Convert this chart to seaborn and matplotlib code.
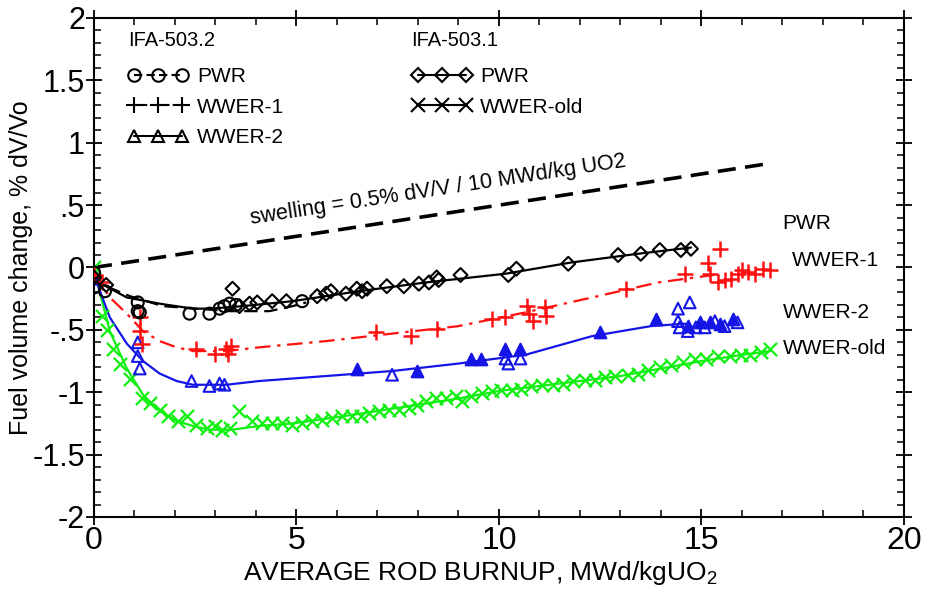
import matplotlib
matplotlib.use("Agg")
import matplotlib.pyplot as plt
from matplotlib.lines import Line2D
from matplotlib.legend import Legend
from matplotlib.ticker import MultipleLocator, FixedLocator, FixedFormatter
import seaborn as sns
import pandas as pd

# ---------------- data ----------------
# IFA-503.1 WWER-old (x markers)
old_x = [0, 0.2, 0.32, 0.47, 0.64, 0.89, 1.18, 1.38, 1.62, 1.82, 2.07, 2.29, 2.53, 2.78, 2.98, 3.17,
         3.35, 3.59, 3.89, 4.16, 4.40, 4.65, 4.90, 5.14, 5.39, 5.63, 5.88, 6.13, 6.37, 6.59, 6.79, 7.04,
         7.28, 7.53, 7.77, 7.97, 8.19, 8.44, 8.68, 8.93, 9.08, 9.32, 9.57, 9.82, 10.06, 10.31, 10.55,
         10.80, 11.05, 11.34, 11.59, 11.83, 12.13, 12.37, 12.62, 12.87, 13.19, 13.43, 13.68, 13.97,
         14.24, 14.54, 14.83, 15.10, 15.40, 15.70, 15.97, 16.20, 16.46, 16.68]
old_y = [0.0, -0.39, -0.50, -0.65, -0.77, -0.89, -1.05, -1.09, -1.14, -1.19, -1.23, -1.19, -1.26, -1.29,
         -1.27, -1.30, -1.29, -1.15, -1.23, -1.25, -1.25, -1.25, -1.26, -1.25, -1.23, -1.22, -1.21, -1.19,
         -1.19, -1.19, -1.17, -1.15, -1.14, -1.14, -1.13, -1.10, -1.07, -1.05, -1.05, -1.03, -1.07, -1.03,
         -1.01, -0.99, -0.98, -0.98, -0.97, -0.95, -0.94, -0.94, -0.93, -0.91, -0.90, -0.90, -0.88, -0.87,
         -0.86, -0.85, -0.82, -0.80, -0.78, -0.76, -0.73, -0.73, -0.71, -0.71, -0.70, -0.70, -0.68, -0.65]
old_fit_x = [0, 0.39, 0.81, 1.21, 1.62, 2.04, 2.44, 2.85, 3.42, 4.08, 4.9, 6.0, 7.0, 8.0, 9.0, 10.0,
             11.0, 12.0, 13.0, 14.0, 15.0, 16.0, 16.7]
old_fit_y = [-0.02, -0.51, -0.81, -1.02, -1.15, -1.23, -1.27, -1.30, -1.30, -1.27, -1.25, -1.20, -1.15,
             -1.10, -1.05, -0.99, -0.95, -0.91, -0.87, -0.81, -0.75, -0.70, -0.67]

# IFA-503.2 WWER-2 (triangles)
w2_open_x = [0, 1.08, 1.08, 1.13, 2.41, 2.85, 3.10, 3.22, 7.36, 10.16, 10.23, 10.53, 14.42, 14.71,
             14.42, 14.46, 14.66, 14.86, 15.08, 15.33, 15.57, 15.89]
w2_open_y = [-0.09, -0.60, -0.71, -0.81, -0.91, -0.95, -0.93, -0.94, -0.86, -0.73, -0.77, -0.73, -0.33,
             -0.28, -0.43, -0.48, -0.51, -0.48, -0.48, -0.43, -0.47, -0.44]
w2_fill_x = [6.50, 7.97, 9.30, 9.55, 10.16, 10.53, 12.50, 13.87, 14.66, 14.96, 15.20, 15.45, 15.77]
w2_fill_y = [-0.81, -0.83, -0.73, -0.73, -0.65, -0.65, -0.52, -0.41, -0.47, -0.44, -0.44, -0.45, -0.41]
w2_fit_x = [0, 0.39, 0.81, 1.21, 1.62, 2.04, 2.44, 3.27, 4.08, 5.73, 7.36, 9.0, 10.65, 12.3, 13.75, 14.6]
w2_fit_y = [-0.06, -0.40, -0.61, -0.75, -0.85, -0.91, -0.94, -0.94, -0.91, -0.87, -0.83, -0.77, -0.70,
            -0.55, -0.47, -0.45]

# IFA-503.2 WWER-1 (plus)
w1_x = [0, 0.2, 1.13, 1.13, 1.18, 2.53, 2.98, 3.27, 3.39, 3.30, 6.96, 7.82, 8.46, 9.82, 10.16, 10.68,
        10.73, 10.85, 11.14, 11.17, 13.14, 14.59, 15.15, 15.45, 15.20, 15.40, 15.57, 15.72, 15.89, 16.01,
        16.14, 16.31, 16.51, 16.68]
w1_y = [-0.06, -0.12, -0.40, -0.51, -0.61, -0.65, -0.69, -0.65, -0.63, -0.69, -0.52, -0.55, -0.49, -0.41,
        -0.40, -0.31, -0.37, -0.43, -0.32, -0.39, -0.17, -0.05, 0.04, 0.15, -0.05, -0.12, -0.10, -0.09,
        -0.05, -0.02, -0.04, -0.05, -0.01, -0.02]
w1_fit_x = [0, 0.39, 0.81, 1.21, 1.62, 2.04, 2.44, 3.27, 4.08, 5.73, 7.36, 9.0, 10.65, 12.3, 13.93, 15.3]
w1_fit_y = [-0.04, -0.24, -0.37, -0.51, -0.59, -0.64, -0.67, -0.67, -0.64, -0.59, -0.53, -0.47, -0.36,
            -0.24, -0.12, -0.06]

# IFA-503.2 PWR (circles)
p2_x = [0, 0, 0.27, 1.08, 1.08, 1.13, 2.36, 2.85, 3.10, 3.22, 3.35, 3.50, 5.14]
p2_y = [-0.04, -0.16, -0.19, -0.28, -0.35, -0.36, -0.37, -0.37, -0.33, -0.31, -0.29, -0.30, -0.27]
p2_fit_x = [0, 0.15, 0.89, 1.70, 2.53, 3.35, 3.76, 4.33, 4.9, 5.24]
p2_fit_y = [-0.05, -0.13, -0.23, -0.31, -0.33, -0.35, -0.35, -0.35, -0.31, -0.28]

# IFA-503.1 PWR (diamonds)
p1_x = [0, 0.3, 3.42, 3.59, 3.84, 4.03, 4.40, 4.75, 5.51, 5.73, 5.85, 6.22, 6.49, 6.62, 6.74, 7.23,
        7.65, 8.02, 8.27, 8.46, 8.51, 9.05, 10.23, 10.43, 11.71, 12.94, 13.50, 13.97, 14.49, 14.74]
p1_y = [-0.08, -0.14, -0.17, -0.31, -0.29, -0.28, -0.27, -0.27, -0.23, -0.21, -0.19, -0.21, -0.17, -0.19,
        -0.17, -0.15, -0.15, -0.13, -0.12, -0.08, -0.10, -0.06, -0.06, -0.01, 0.03, 0.10, 0.11, 0.14,
        0.14, 0.15]
p1_fit_x = [0, 0.81, 1.62, 2.44, 2.85, 3.67, 4.9, 6.54, 8.19, 10.16, 11.78, 13.43, 14.74]
p1_fit_y = [-0.10, -0.24, -0.29, -0.33, -0.33, -0.31, -0.27, -0.19, -0.12, -0.05, 0.04, 0.11, 0.16]

# swelling reference line
swell_x = [0, 16.7]
swell_y = [0.0, 0.835]
swell_text = "swelling = 0.5% dV/V / 10 MWd/kg UO2"
swell_text_pos = (8.5, 0.62)

# right-hand labels
end_labels = ["PWR", "WWER-1", "WWER-2", "WWER-old"]
end_label_x = [17.0, 17.23, 17.0, 17.0]
end_label_y = [0.355, 0.056, -0.36, -0.65]

xticks = [0, 5, 10, 15, 20]
xtick_labels = ["0", "5", "10", "15", "20"]
yticks = [2, 1.5, 1, 0.5, 0, -0.5, -1, -1.5, -2]
ytick_labels = ["2", "1.5", "1", ".5", "0", "-.5", "-1", "-1.5", "-2"]

# ---------------- styling ----------------
sns.set_theme(style="ticks")
plt.rcParams["font.family"] = ["Liberation Sans", "DejaVu Sans"]
plt.rcParams["mathtext.fontset"] = "custom"
plt.rcParams["mathtext.rm"] = "Liberation Sans"
plt.rcParams["mathtext.it"] = "Liberation Sans"
plt.rcParams["mathtext.bf"] = "Liberation Sans"
plt.rcParams["text.color"] = "black"
plt.rcParams["legend.labelcolor"] = "black"

GREEN = "#11ee11"
RED = "#ff1010"
BLUE = "#1515e6"
BLACK = "black"

fig = plt.figure(figsize=(9.4, 5.92), dpi=100)
ax = fig.add_axes([0.1, 0.1267, 0.8617, 0.8429])


def fit(x, y, color, lw=1.6):
    df = pd.DataFrame({"x": x, "y": y})
    sns.lineplot(data=df, x="x", y="y", ax=ax, color=color, lw=lw, sort=False, estimator=None)
    return ax.lines[-1]


def pts(x, y, marker, color, size, filled=False, lw=1.5):
    df = pd.DataFrame({"x": x, "y": y})
    if marker in ("x", "+"):
        sns.scatterplot(data=df, x="x", y="y", ax=ax, marker=marker, color=color, s=size,
                        linewidth=lw, zorder=3)
    else:
        sns.scatterplot(data=df, x="x", y="y", ax=ax, marker=marker, s=size,
                        facecolor=color if filled else "none", edgecolor=color,
                        linewidth=lw, zorder=3)


# swelling line
fit(swell_x, swell_y, BLACK, lw=2.6).set_dashes([5, 2.6])

# fits
fit(old_fit_x, old_fit_y, GREEN)
fit(w2_fit_x, w2_fit_y, BLUE)
fit(w1_fit_x, w1_fit_y, RED).set_dashes([7, 3, 1.5, 3])
fit(p2_fit_x, p2_fit_y, BLACK).set_dashes([6, 3])
fit(p1_fit_x, p1_fit_y, BLACK)

# points
pts(old_x, old_y, "x", GREEN, 90, lw=1.6)
pts(w2_open_x, w2_open_y, "^", BLUE, 70)
pts(w2_fill_x, w2_fill_y, "^", BLUE, 70, filled=True)
pts(w1_x, w1_y, "+", RED, 130, lw=1.8)
pts(p2_x, p2_y, "o", BLACK, 75)
pts(p1_x, p1_y, "D", BLACK, 50)

# swelling text
ax.text(swell_text_pos[0], swell_text_pos[1], swell_text, fontsize=15.5, rotation=8.7,
        rotation_mode="anchor", ha="center", va="center", color=BLACK)

for lab, lx, ly in zip(end_labels, end_label_x, end_label_y):
    ax.text(lx, ly, lab, fontsize=15, ha="left", va="center", color=BLACK)

# axes
ax.set_xlim(0, 20)
ax.set_ylim(-2, 2)
ax.xaxis.set_major_locator(FixedLocator(xticks))
ax.xaxis.set_major_formatter(FixedFormatter(xtick_labels))
ax.xaxis.set_minor_locator(MultipleLocator(1))
ax.yaxis.set_major_locator(FixedLocator(yticks))
ax.yaxis.set_major_formatter(FixedFormatter(ytick_labels))
ax.yaxis.set_minor_locator(MultipleLocator(0.1))
ax.tick_params(which="major", direction="inout", length=11, width=1.3, color=BLACK,
               top=True, right=True, bottom=True, left=True, labelcolor=BLACK)
ax.tick_params(which="minor", direction="in", length=5, width=1.1, color=BLACK,
               top=True, right=True, bottom=True, left=True)
ax.tick_params(axis="x", labelsize=23, pad=1)
ax.tick_params(axis="y", labelsize=22, pad=1)
for sp in ax.spines.values():
    sp.set_color(BLACK)
    sp.set_linewidth(1.5)

ax.set_xlabel("AVERAGE ROD BURNUP, MWd/kgUO$_2$", fontsize=19, color=BLACK)
ax.xaxis.set_label_coords(0.477, -0.085)
ax.set_ylabel("Fuel volume change, % dV/Vo", fontsize=18, color=BLACK)
ax.yaxis.set_label_coords(-0.075, 0.5)

# legends
h2 = [Line2D([], [], color=BLACK, ls="--", dashes=[4, 2], marker="o", mfc="none", ms=9, mew=1.5, lw=1.5),
      Line2D([], [], color=BLACK, ls="-.", marker="+", ms=11, mew=1.5, lw=1.5),
      Line2D([], [], color=BLACK, ls="-", marker="^", mfc="none", ms=9, mew=1.5, lw=1.5)]
h1 = [Line2D([], [], color=BLACK, ls="-", marker="D", mfc="none", ms=7, mew=1.5, lw=1.5),
      Line2D([], [], color=BLACK, ls="-", marker="x", ms=10, mew=1.5, lw=1.5)]
for hs, labs, title, xa in [(h2, ["PWR", "WWER-1", "WWER-2"], "IFA-503.2", 0.042),
                            (h1, ["PWR", "WWER-old"], "IFA-503.1", 0.392)]:
    lg = Legend(ax, hs, labs, title=title, alignment="left",
                loc="upper left", bbox_to_anchor=(xa, 0.973), frameon=False, fontsize=15,
                title_fontsize=14.5, numpoints=3, handlelength=2.9, handletextpad=0.4,
                labelspacing=0.55, borderpad=0, borderaxespad=0)
    lg.get_title().set_color(BLACK)
    lg._legend_box.sep = 12
    ax.add_artist(lg)

fig.savefig("out.png", dpi=100)
